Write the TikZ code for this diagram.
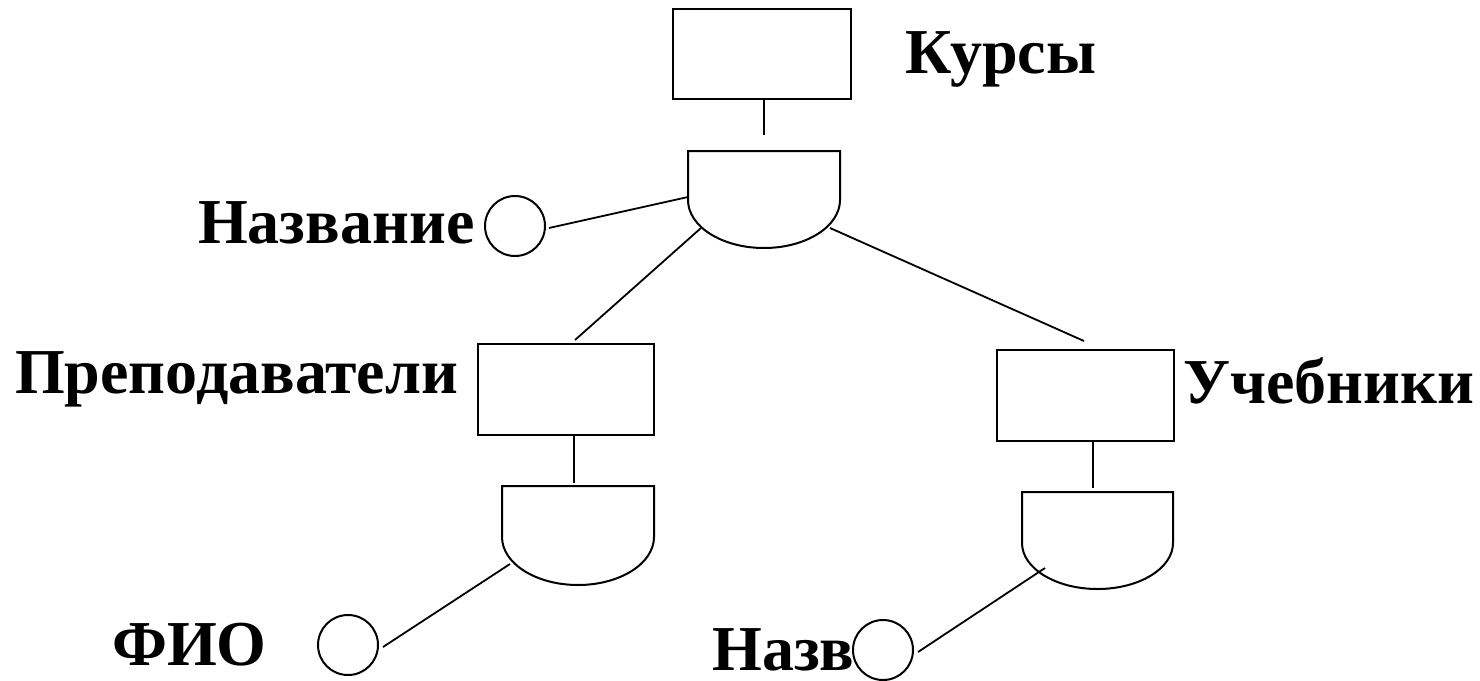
\documentclass[tikz,border=0pt]{standalone}
\usepackage{fontspec}
\setmainfont{Liberation Serif}
\newcommand\dshape[4]{% name, straight part, y radius, x radius
  \draw[shapeline] (#1.north west) -- (#1.north east) -- ++(0pt,-#2pt)
    arc[start angle=0,end angle=-180,x radius=#4pt,y radius=#3pt] -- cycle;}
\begin{document}
\begin{tikzpicture}[x=1pt,y=-1pt,
  shapeline/.style={line width=2pt, line join=miter},
  entity/.style={draw, rectangle, inner sep=0pt, line width=2pt},
  attr/.style={draw, circle, inner sep=0pt, minimum size=60pt, line width=2pt},
  dframe/.style={rectangle, inner sep=0pt, outer sep=0pt, draw=none},
  lbl/.style={font=\fontsize{64}{66}\selectfont\bfseries, inner sep=0pt, anchor=base west},
  link/.style={line width=1.8pt}]
\useasboundingbox (0,0) rectangle (1480,680);

% entities
\node[entity, minimum width=178pt, minimum height=90pt] (kursy) at (762,54) {};
\node[entity, minimum width=176pt, minimum height=91pt] (prep) at (566,389.5) {};
\node[entity, minimum width=177pt, minimum height=91pt] (uch) at (1085.5,395.5) {};

% D-shapes
\node[dframe, minimum width=152pt, minimum height=97pt] (d1) at (764,199.5) {};
\dshape{d1}{49}{48}{76}
\node[dframe, minimum width=152pt, minimum height=99pt] (d2) at (578,535.5) {};
\dshape{d2}{51}{48}{76}
\node[dframe, minimum width=151pt, minimum height=97pt] (d3) at (1097.5,540.5) {};
\dshape{d3}{51}{46}{75.5}

% attributes
\node[attr] (c1) at (515,226) {};
\node[attr] (c2) at (348,645) {};
\node[attr] (c3) at (883,650) {};

% labels
\node[lbl] (lkursy) at (905,73) {Курсы};
\node[lbl] (lnazv1) at (198,243) {Название};
\node[lbl] (lprep) at (15,393) {Преподаватели};
\node[lbl] (luch) at (1183,403) {Учебники};
\node[lbl] (lfio) at (112,665) {ФИО};
\node[lbl] (lnazv2) at (712,670) {Назв};

% connector end points
\coordinate (k1) at (764,99);
\coordinate (k2) at (764,135);
\coordinate (p1) at (574,435);
\coordinate (p2) at (574,483);
\coordinate (u1) at (1093,441);
\coordinate (u2) at (1093,488);
\coordinate (a1) at (688,197);
\coordinate (a2) at (701,228);
\coordinate (a3) at (575,340);
\coordinate (a4) at (830,228);
\coordinate (a5) at (1084,341);
\coordinate (b1) at (510,564);
\coordinate (b2) at (1045,568);
\coordinate (e1) at (549,228);
\coordinate (e2) at (383,647);
\coordinate (e3) at (918,652);

% connectors
\draw[link] (k1) -- (k2);
\draw[link] (p1) -- (p2);
\draw[link] (u1) -- (u2);
\draw[link] (e1) -- (a1);
\draw[link] (a2) -- (a3);
\draw[link] (a4) -- (a5);
\draw[link] (e2) -- (b1);
\draw[link] (e3) -- (b2);
\end{tikzpicture}
\end{document}
